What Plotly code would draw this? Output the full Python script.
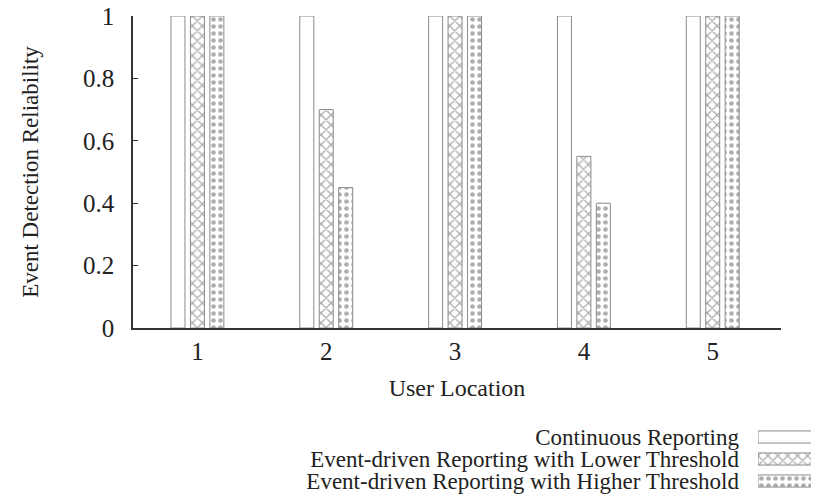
import plotly.graph_objects as go

locations = [1, 2, 3, 4, 5]
series_names = [
    "Continuous Reporting",
    "Event-driven Reporting with Lower Threshold",
    "Event-driven Reporting with Higher Threshold",
]
continuous = [1.0, 1.0, 1.0, 1.0, 1.0]
lower_thr = [1.0, 0.70, 1.0, 0.55, 1.0]
higher_thr = [1.0, 0.45, 1.0, 0.40, 1.0]
y_ticks = [0, 0.2, 0.4, 0.6, 0.8, 1]
y_tick_labels = ["0", "0.2", "0.4", "0.6", "0.8", "1"]

FONT = "Times New Roman, Liberation Serif, DejaVu Serif, serif"
TXT = "#222222"
EDGE = "#8c8c8c"
PAT = "#5e5e5e"
shapes = ["", "x", "."]

fig = go.Figure()
for name, vals, shp in zip(series_names, [continuous, lower_thr, higher_thr], shapes):
    fig.add_trace(go.Bar(
        x=locations, y=vals, name=name, showlegend=False,
        marker=dict(color="white", line=dict(color=EDGE, width=1),
                    pattern=dict(shape=shp, fgcolor=PAT, bgcolor="white",
                                 size=7, solidity=0.35, fillmode="overlay")),
        xaxis="x", yaxis="y",
    ))

# legend swatches drawn as a tiny horizontal bar chart
fig.add_trace(go.Bar(
    y=series_names, x=[1.1, 1.1, 1.1], orientation="h", width=0.55,
    showlegend=False, xaxis="x2", yaxis="y2", cliponaxis=True,
    marker=dict(color="white", line=dict(color=EDGE, width=1),
                pattern=dict(shape=shapes, fgcolor=PAT, bgcolor="white",
                             size=7, solidity=0.35, fillmode="overlay")),
))

# the page body adds an 8px margin, so figure coords = screen coords - 8
W, H = 811, 496
L, R, T, B = 125, 0, 8, 0
pw, ph = W - L - R, H - T - B
x_right = 773
y_bottom = 320
sw_left = 750

fig.update_layout(
    width=W, height=H,
    margin=dict(l=L, r=R, t=T, b=B, pad=0, autoexpand=False),
    paper_bgcolor="white", plot_bgcolor="white",
    barmode="group", bargap=0.547, bargroupgap=0.28,
    font=dict(family=FONT, size=24, color=TXT),
    xaxis=dict(
        domain=[0, (x_right - L) / pw], range=[0.5, 5.53],
        tickvals=locations, ticks="", showgrid=False, zeroline=False,
        showline=True, linecolor="#333333", linewidth=1.5,
        tickfont=dict(size=25, family=FONT, color=TXT),
        title=dict(text="User Location", font=dict(size=24, family=FONT, color=TXT), standoff=15),
        anchor="y", automargin=False,
    ),
    yaxis=dict(
        domain=[(H - y_bottom) / ph, 1], range=[0, 1],
        tickvals=y_ticks, ticktext=y_tick_labels,
        ticks="inside", ticklen=5, tickcolor="#333333", tickwidth=1,
        showgrid=False, zeroline=False,
        showline=True, linecolor="#333333", linewidth=1.5,
        tickfont=dict(size=25, family=FONT, color=TXT), ticklabelstandoff=12,
        ticklabeloverflow="allow",
        title=dict(text="Event Detection Reliability", font=dict(size=23, family=FONT, color=TXT), standoff=38),
        anchor="x", automargin=False,
    ),
    xaxis2=dict(
        domain=[(sw_left - L) / pw, 1], range=[0, 1], visible=False, anchor="y2",
        fixedrange=True, automargin=False,
    ),
    yaxis2=dict(
        domain=[12 / ph, 78 / ph], type="category",
        categoryorder="array", categoryarray=series_names,
        tickmode="array", tickvals=series_names, ticktext=series_names,
        range=[2.5, -0.5], showgrid=False, zeroline=False, showline=False,
        ticks="", ticklabelstandoff=18, automargin=False,
        tickfont=dict(size=23, family=FONT, color=TXT), anchor="x2",
    ),
)

fig.write_html("out.html")
